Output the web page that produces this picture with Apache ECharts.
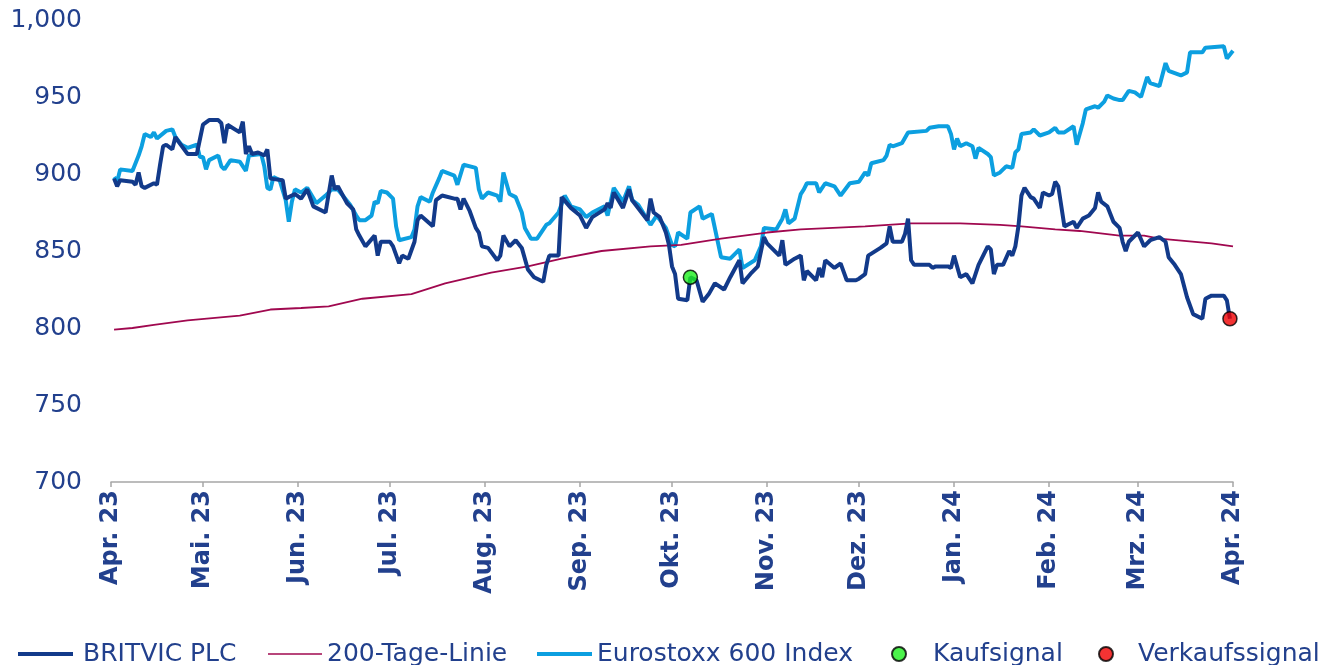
<!DOCTYPE html>
<html>
<head>
<meta charset="utf-8">
<title>BRITVIC PLC</title>
<script src="https://cdn.jsdelivr.net/npm/echarts@6/dist/echarts.min.js"></script>
<style>
  html, body { margin: 0; padding: 0; background: #fff; }
  #chart { width: 1335px; height: 665px; }
</style>
</head>
<body>
<div id="chart"></div>
<script>
// x values are calendar days counted from 1 Apr 2023
let startDate = [2023, 3, 1];

let britvicDay = [1, 2, 3, 7, 8, 9, 10, 11, 14, 15, 16, 17, 18, 20, 21, 22, 25, 28, 30, 32, 35, 36, 37, 38, 42, 43, 44, 45, 46, 48,
  50, 51, 52, 56, 57, 59, 60, 62, 64, 66, 70, 72, 73, 74, 77, 79, 80, 81, 83, 86, 87, 88, 91, 92, 94, 95, 97, 99, 100, 101,
  105, 106, 108, 112, 113, 114, 115, 117, 119, 120, 121, 123, 126, 127, 128, 130, 132, 134, 136, 138, 141, 142, 143, 146, 147,
  150, 153, 155, 157, 161, 162, 163, 164, 167, 169, 170, 175, 176, 177, 179, 181, 182, 183, 184, 185, 188, 189, 191, 193, 195,
  197, 200, 202, 205, 206, 209, 211, 213, 214, 218, 219, 220, 223, 225, 226, 227, 230, 231, 232, 233, 236, 238, 240, 243, 244,
  246, 247, 251, 253, 254, 255, 258, 259, 260, 261, 262, 267, 268, 269, 273, 274, 275, 277, 279, 281, 283, 286, 287, 288, 289,
  291, 293, 294, 295, 296, 297, 298, 300, 301, 303, 304, 306, 307, 308, 309, 311, 314, 315, 317, 319, 321, 322, 323, 325, 327,
  329, 330, 331, 332, 335, 337, 339, 342, 344, 345, 347, 349, 351, 353, 356, 357, 359, 363, 364, 365];
let britvicValue = [897, 892, 896, 895, 893, 901, 892, 891, 894, 893, 906, 918, 919, 916, 924, 921, 913, 913, 932, 935, 935, 933, 920, 932, 927, 934, 913, 918, 913, 914,
  912, 916, 897, 896, 884, 886, 887, 884, 890, 879, 875, 899, 890, 892, 881, 877, 864, 860, 853, 860, 847, 856, 856, 853, 842, 847, 845, 856, 870, 873,
  866, 883, 886, 884, 884, 877, 884, 876, 865, 862, 853, 852, 844, 847, 860, 853, 857, 852, 838, 833, 830, 841, 847, 847, 885,
  878, 873, 865, 872, 877, 881, 878, 888, 878, 890, 883, 870, 884, 875, 872, 862, 854, 840, 835, 819, 818, 833, 831, 817, 822,
  829, 825, 833, 844, 829, 836, 840, 859, 855, 847, 857, 841, 845, 847, 831, 837, 831, 839, 833, 844, 839, 842, 831, 831, 832,
  835, 847, 852, 855, 866, 856, 856, 861, 871, 844, 841, 841, 839, 840, 840, 839, 847, 833, 835, 829, 841, 853, 851, 835, 841,
  841, 850, 847, 853, 866, 886, 891, 885, 884, 878, 888, 886, 887, 895, 892, 866, 869, 865, 871, 873, 878, 888, 882, 879, 869,
  865, 856, 850, 856, 862, 853, 857, 859, 856, 846, 841, 835, 820, 809, 806, 819, 821, 821, 818, 806];

let stoxxDay = [1, 2, 3, 7, 9, 10, 11, 13, 14, 15, 18, 20, 21, 23, 25, 28, 29, 30, 31, 32, 35, 36, 37, 39, 42, 44, 45, 49, 50, 51,
  52, 53, 55, 57, 58, 59, 60, 62, 64, 67, 70, 72, 74, 78, 80, 81, 83, 85, 86, 87, 88, 90, 92, 93, 94, 98, 99, 100, 101, 104,
  105, 107, 108, 112, 113, 115, 119, 120, 121, 123, 126, 127, 128, 130, 132, 134, 135, 137, 139, 142, 143, 146, 148, 150, 153,
  155, 157, 161, 162, 164, 167, 169, 170, 172, 176, 178, 181, 183, 184, 185, 188, 189, 192, 193, 196, 199, 202, 205, 206, 210,
  212, 213, 217, 219, 220, 221, 223, 225, 226, 227, 230, 231, 233, 236, 238, 241, 244, 246, 247, 248, 252, 253, 254, 255, 258,
  260, 266, 267, 270, 273, 274, 275, 276, 277, 279, 281, 282, 283, 286, 287, 288, 290, 292, 294, 295, 296, 297, 300, 301, 303,
  306, 308, 309, 311, 314, 315, 317, 318, 321, 322, 324, 325, 327, 329, 330, 332, 334, 336, 338, 339, 342, 344, 345, 349, 351,
  352, 356, 357, 363, 364, 366];
let stoxxValue = [898, 895, 903, 902, 912, 918, 926, 924, 927, 923, 928, 929, 924, 919, 917, 919, 911, 911, 903, 909, 912, 905, 903, 909, 908, 902, 912, 913, 905, 891,
  890, 898, 896, 883, 869, 882, 890, 888, 891, 881, 886, 890, 890, 880, 873, 870, 870, 873, 882, 881, 889, 888, 884, 866, 857, 859, 864, 879, 885, 882,
  888, 897, 902, 899, 893, 906, 904, 890, 884, 888, 886, 882, 901, 887, 885, 875, 865, 858, 858, 867, 868, 875, 886, 879, 877,
  872, 875, 879, 873, 891, 882, 892, 883, 880, 867, 873, 865, 854, 853, 862, 858, 875, 879, 871, 874, 846, 845, 851, 839, 844,
  853, 865, 864, 871, 877, 868, 871, 887, 890, 894, 894, 888, 894, 892, 886, 894, 895, 901, 899, 907, 909, 912, 919, 918, 920,
  927, 928, 930, 931, 931, 926, 916, 923, 918, 920, 918, 910, 917, 913, 911, 899, 901, 905, 904, 914, 916, 926, 927, 929, 925,
  927, 930, 927, 927, 931, 919, 933, 942, 944, 943, 947, 951, 949, 948, 948, 954, 953, 950, 963, 959, 957, 972, 967, 964, 966,
  979, 979, 982, 983, 975, 980];

let maDay = [1, 7, 14, 25, 42, 52, 62, 71, 82, 98, 109, 124, 136, 147, 160, 176, 186, 199, 214, 225, 246, 261, 277, 290, 297, 308, 316, 329, 337, 342, 359, 366];
let maValue = [799, 800, 802, 805, 808, 812, 813, 814, 819, 822, 829, 836, 840, 845, 850, 853, 854, 858, 862, 864, 866, 868, 868, 867, 866, 864, 863, 860, 860, 858, 855, 853];

let buyDay = [189];
let buyValue = [833];
let sellDay = [365];
let sellValue = [806];

let monthLabels = ['Jan.', 'Feb.', 'Mrz.', 'Apr.', 'Mai.', 'Jun.', 'Jul.', 'Aug.', 'Sep.', 'Okt.', 'Nov.', 'Dez.'];

let textColor = '#22408d';
let font = 'DejaVu Sans';
let navy = '#123a8a';
let cyan = '#0c9fe0';
let maroon = '#a0084f';

function dayToDate(d) {
  return new Date(startDate[0], startDate[1], startDate[2] + d);
}

function toPoints(days, values) {
  return days.map((d, i) => [dayToDate(d), values[i]]);
}

// one legend per entry so each can sit where the original puts it
function legendEntry(name, left, icon, width, height, textGap) {
  return {
    left: left,
    top: 641,
    padding: 0,
    itemWidth: width,
    itemHeight: height,
    textStyle: {color: textColor, fontFamily: font, fontSize: 25, lineHeight: 26, padding: [0, 0, 0, textGap]},
    data: [{name: name, icon: icon}]
  };
}

let chart = echarts.init(document.getElementById('chart'), null, {renderer: 'canvas'});

let option = {
  animation: false,
  grid: {left: 111, right: 102, top: 20, bottom: 183, containLabel: false},
  legend: [
    legendEntry('BRITVIC PLC', 18, 'path://M0,0H55V4H0Z', 55, 4, 5),
    legendEntry('200-Tage-Linie', 268, 'path://M0,0H54V1.6H0Z', 54, 4, 0),
    legendEntry('Eurostoxx 600 Index', 537, 'path://M0,0H55V4H0Z', 55, 4, 0),
    legendEntry('Kaufsignal', 891, 'circle', 14, 14, 22),
    legendEntry('Verkaufssignal', 1098, 'circle', 14, 14, 20)
  ],
  xAxis: {
    type: 'time',
    min: dayToDate(0),
    max: dayToDate(366),
    splitNumber: 12,
    axisLine: {lineStyle: {color: '#a6a6a6', width: 1.5}},
    axisTick: {show: true, length: 5, lineStyle: {color: '#a6a6a6', width: 1.5}},
    splitLine: {show: false},
    axisLabel: {
      rotate: 90,
      margin: 8,
      color: textColor,
      fontFamily: font,
      fontSize: 24,
      fontWeight: 'bold',
      hideOverlap: false,
      formatter: (value) => {
        let d = new Date(value);
        return monthLabels[d.getMonth()] + ' ' + String(d.getFullYear()).slice(2);
      }
    }
  },
  yAxis: {
    type: 'value',
    min: 700,
    max: 1000,
    interval: 50,
    axisLine: {show: false},
    axisTick: {show: false},
    splitLine: {show: false},
    axisLabel: {
      margin: 29,
      color: textColor,
      fontFamily: font,
      fontSize: 25,
      formatter: (v) => v.toLocaleString('en-US')
    }
  },
  series: [
    {
      name: 'Eurostoxx 600 Index',
      type: 'line',
      symbol: 'none',
      color: cyan,
      lineStyle: {width: 4, color: cyan},
      data: toPoints(stoxxDay, stoxxValue),
      z: 2
    },
    {
      name: '200-Tage-Linie',
      type: 'line',
      symbol: 'none',
      color: maroon,
      lineStyle: {width: 1.8, color: maroon},
      data: toPoints(maDay, maValue),
      z: 3
    },
    {
      name: 'BRITVIC PLC',
      type: 'line',
      symbol: 'none',
      color: navy,
      lineStyle: {width: 4, color: navy},
      data: toPoints(britvicDay, britvicValue),
      z: 4
    },
    {
      name: 'Kaufsignal',
      type: 'scatter',
      symbol: 'circle',
      symbolSize: 14,
      itemStyle: {color: '#1ef01e', borderColor: '#000', borderWidth: 1.5},
      data: toPoints(buyDay, buyValue),
      z: 5
    },
    {
      name: 'Verkaufssignal',
      type: 'scatter',
      symbol: 'circle',
      symbolSize: 14,
      itemStyle: {color: '#f00000', borderColor: '#000', borderWidth: 1.5},
      data: toPoints(sellDay, sellValue),
      z: 5
    }
  ]
};

chart.setOption(option);
</script>
</body>
</html>
